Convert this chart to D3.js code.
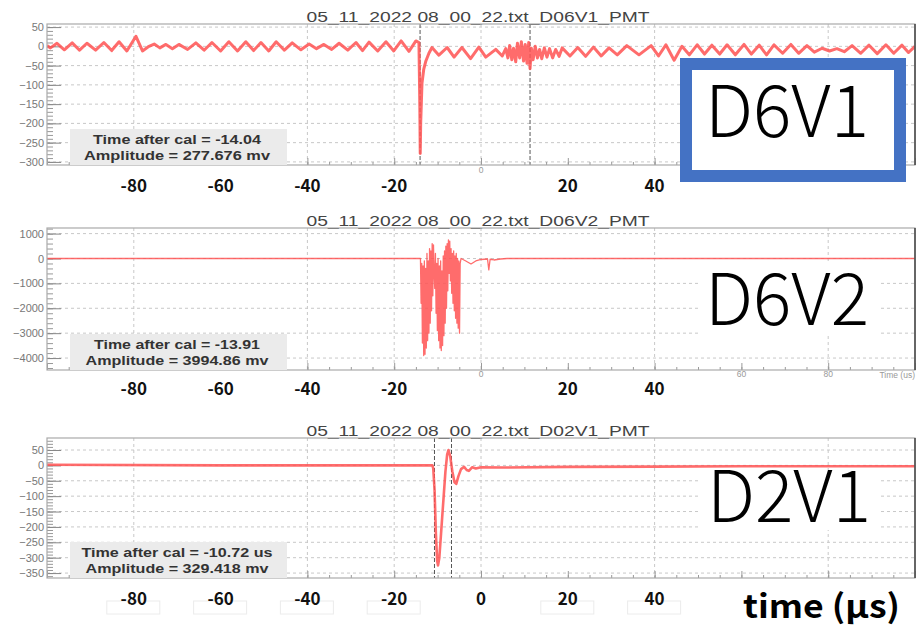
<!DOCTYPE html>
<html>
<head>
<meta charset="utf-8">
<script src="https://cdn.jsdelivr.net/npm/d3@7/dist/d3.min.js"></script>
<style>
  body { margin: 0; background: #fff; }
  svg { display: block; }
</style>
</head>
<body>
<svg id="chart" width="918" height="628"></svg>
<script>
// ---- data ----
const titles = [
  "05_11_2022 08_00_22.txt_D06V1_PMT",
  "05_11_2022 08_00_22.txt_D06V2_PMT",
  "05_11_2022 08_00_22.txt_D02V1_PMT"
];
const tags = ["D6V1", "D6V2", "D2V1"];

const d06v1Info = ["Time after cal = -14.04", "Amplitude = 277.676 mv"];
const d06v2Info = ["Time after cal = -13.91", "Amplitude = 3994.86 mv"];
const d02v1Info = ["Time after cal = -10.72 us", "Amplitude = 329.418 mv"];

const d06v1YTicks = [50, 0, -50, -100, -150, -200, -250, -300];
const d06v2YTicks = [1000, 0, -1000, -2000, -3000, -4000];
const d02v1YTicks = [50, 0, -50, -100, -150, -200, -250, -300, -350];

const boldLabelsUpper = [-80, -60, -40, -20, 20, 40];
const boldLabelsLower = [-80, -60, -40, -20, 0, 20, 40];
const gridX = [-80, -40, -20, 0, 40, 80];

const d06v1Markers = [-14.04, 11.3];
const d02v1Markers = [-10.72, -6.8];

// [time (us), mV]
const d06v1Wave = [
  [-100, 2], [-99.2, -4], [-97.7, 8], [-96, -9], [-94.2, 9], [-92.5, -10], [-90.8, 8],
  [-88.8, -10], [-86.9, 10], [-85.1, -11], [-83.4, 12], [-81.6, -12], [-79.5, 26], [-78.0, -12],
  [-76.5, 0], [-75.3, 6], [-74, -4], [-72.6, 5], [-71.1, -6], [-69.6, 5], [-67.6, -8],
  [-65.7, 9], [-63.8, -10], [-62.0, 10], [-60.0, -12], [-58.1, 12], [-56.1, -12], [-54.2, 12],
  [-52.4, -11], [-50.7, 10], [-48.9, -12], [-47.2, 12], [-45.3, -10], [-43.5, 9], [-41.5, -9],
  [-39.6, 6], [-37.9, -6], [-36.2, 5], [-34.4, -8], [-32.7, 8], [-30.7, -10], [-28.8, 10],
  [-27.3, -11], [-25.8, 11], [-23.8, -12], [-21.9, 12], [-20.1, -12], [-18.4, 14], [-16.6, -13],
  [-15.0, 14], [-14.3, 10], [-14.1, -150], [-14.0, -278], [-13.9, -200], [-13.6, -96],
  [-13.2, -60], [-12.7, -38], [-12.0, -18], [-11.3, -3], [-9.7, -23], [-7.8, -3], [-6.2, -28],
  [-4.4, -3], [-2.4, -32], [-0.5, -2], [1.1, -28], [3.4, -8], [4.9, -25], [5.7, -6], [6.2, -30],
  [6.6, 2], [7.1, -35], [7.5, -5], [8.0, -40], [8.4, 8], [8.9, -30], [9.3, 12], [9.8, -38],
  [10.2, 5], [10.6, -44], [11.0, 10], [11.3, -58], [11.6, -5], [12.0, -35], [12.5, 0],
  [13.0, -30], [13.5, -8], [14.0, -32], [14.6, -4], [15.2, -28], [15.8, -6], [16.5, -30],
  [17.2, -8], [18.0, -26], [18.7, -4], [20.5, -25], [22.3, -3], [24.1, -26], [25.9, -2],
  [27.7, -25], [29.5, -4], [31.4, -22], [33.6, 2], [36.4, -22], [39.2, 2], [40.9, -25],
  [42.6, 4], [44.5, -36], [46.3, 0], [48.0, -22], [49.8, 4], [51.5, -20], [53.2, 3], [55.0, -20],
  [56.7, 4], [58.6, -22], [60.6, 5], [62.3, -20], [64.1, 3], [65.8, -22], [67.5, 4], [69.5, -18],
  [71.4, 5], [73.2, -18], [75.1, 2], [76.8, -15], [78.6, -5], [80.3, -12], [82, -6], [83.7, -14],
  [85.5, 2], [87.5, -18], [89.4, 3], [91.3, -19], [93.3, 4], [95.1, -18], [97.0, 3], [98.5, -16],
  [100, 0]
];

const d06v2Wave = [
  [-100, 0], [-13.95, 0],
  [-13.8, -1800], [-13.65, -200], [-13.5, -3400], [-13.35, -300], [-13.2, -3900], [-13.05, -100],
  [-12.9, -3850], [-12.75, -400], [-12.6, -3600], [-12.45, 200], [-12.3, -3300], [-12.15, -100],
  [-12.0, -3000], [-11.85, 400], [-11.7, -2600], [-11.55, 300], [-11.4, -2100], [-11.25, 600],
  [-11.1, -1500], [-10.95, 550], [-10.8, -600],
  [-10.65, -1200], [-10.5, 200], [-10.35, -2200], [-10.2, -200], [-10.05, -2900], [-9.9, 0],
  [-9.75, -3300], [-9.6, -300], [-9.45, -3600], [-9.3, -100], [-9.15, -3700], [-9.0, -500],
  [-8.85, -3500], [-8.7, 100], [-8.55, -3100], [-8.4, 300], [-8.25, -2600], [-8.1, 500],
  [-7.95, -2000], [-7.8, 600], [-7.65, -1300], [-7.5, 750], [-7.35, -600], [-7.2, 700],
  [-7.05, -900], [-6.9, 400], [-6.75, -1400], [-6.6, 200], [-6.45, -1800], [-6.3, 300],
  [-6.15, -2100], [-6.0, 100], [-5.85, -2400], [-5.7, 200], [-5.55, -2600], [-5.4, 0],
  [-5.25, -2800], [-5.1, -100], [-4.95, -3000], [-4.8, -200], [-4.6, 0],
  [-3.5, -100], [-2.3, -220], [-1.2, -100], [0, -40], [1.5, -20], [1.8, -460], [2.1, -30],
  [3, -60], [4.5, -20], [6, 0], [100, 0]
];

const d02v1Wave = [
  [-100, 2], [-60, 0], [-11.2, 0], [-11.0, -10], [-10.7, -80], [-10.4, -220], [-10.1, -310],
  [-9.9, -325], [-9.6, -300], [-9.2, -220], [-8.7, -120], [-8.2, -20], [-7.8, 35], [-7.5, 50],
  [-7.1, 30], [-6.6, -20], [-6.1, -55], [-5.7, -60], [-5.2, -35], [-4.6, -12], [-3.9, -5],
  [-3.3, -15], [-2.8, -18], [-2.0, -6], [-1.2, -10], [0, -6], [5, -7], [20, -5], [40, -4],
  [60, -3], [80, -3], [100, -3]
];

// ---- layout ----
const svg = d3.select("#chart");
const left = 47, right = 915;
const red = "#ff5252";
const sans = "'Liberation Sans', Arial, sans-serif";
const jp = "'Noto Sans CJK JP', 'Noto Sans', sans-serif";

const x = d3.scaleLinear().domain([-100, 100]).range([left, right]);

const panels = [
  { top: 24, bottom: 165, yDomain: [-308, 58], yTicks: d06v1YTicks, minorStep: 10,
    wave: d06v1Wave, markers: d06v1Markers, title: titles[0], info: d06v1Info, infoLen: [168, 186],
    labels: boldLabelsUpper, labelY: 192, lineWidth: 3 },
  { top: 228, bottom: 370, yDomain: [-4480, 1225], yTicks: d06v2YTicks, minorStep: 200,
    wave: d06v2Wave, markers: [], title: titles[1], info: d06v2Info, infoLen: [166, 183],
    labels: boldLabelsUpper, labelY: 395, lineWidth: 1.3 },
  { top: 438, bottom: 578, yDomain: [-366, 89], yTicks: d02v1YTicks, minorStep: 10,
    wave: d02v1Wave, markers: d02v1Markers, title: titles[2], info: d02v1Info, infoLen: [191, 183],
    labels: boldLabelsLower, labelY: 605, lineWidth: 2.6 }
];

svg.append("rect").attr("width", 918).attr("height", 628).attr("fill", "#fff");

panels.forEach((p, idx) => {
  const g = svg.append("g");
  const y = d3.scaleLinear().domain(p.yDomain).range([p.bottom, p.top]);

  // title
  g.append("text")
    .attr("x", 478).attr("y", p.top - 2.5)
    .attr("text-anchor", "middle")
    .attr("font-family", sans).attr("font-size", 14)
    .attr("fill", "#444")
    .attr("textLength", 343).attr("lengthAdjust", "spacingAndGlyphs")
    .text(p.title);

  // grid
  g.selectAll(".hgrid").data(p.yTicks.filter(v => y(v) > p.top + 2 && y(v) < p.bottom - 2))
    .enter().append("line")
    .attr("x1", left).attr("x2", right)
    .attr("y1", d => y(d)).attr("y2", d => y(d))
    .attr("stroke", "#c8c8c8").attr("stroke-width", 1).attr("stroke-dasharray", "3,3");
  g.selectAll(".vgrid").data(gridX).enter().append("line")
    .attr("x1", d => x(d)).attr("x2", d => x(d))
    .attr("y1", p.top).attr("y2", p.bottom)
    .attr("stroke", "#c8c8c8").attr("stroke-width", 1).attr("stroke-dasharray", "3,3");

  // y axis, ROOT style ticks inside the frame
  const minor = d3.range(Math.ceil(p.yDomain[0] / p.minorStep) * p.minorStep, p.yDomain[1], p.minorStep);
  g.append("g").attr("transform", `translate(${left},0)`)
    .call(d3.axisLeft(y).tickValues(minor).tickSize(-6).tickFormat(""))
    .call(a => a.select(".domain").remove())
    .selectAll("line").attr("stroke", "#999");
  const yAxis = g.append("g").attr("transform", `translate(${left},0)`)
    .call(d3.axisLeft(y).tickValues(p.yTicks).tickSize(-14).tickPadding(3).tickFormat(d3.format("d")))
    .call(a => a.select(".domain").remove());
  yAxis.selectAll("line").attr("stroke", "#888");
  yAxis.selectAll("text")
    .attr("font-family", sans).attr("font-size", 11).attr("fill", "#777");

  // x ticks at bottom, pointing up
  g.append("g").attr("transform", `translate(0,${p.bottom})`)
    .call(d3.axisBottom(x).tickValues(d3.range(-100, 101, 5)).tickSize(-3).tickFormat(""))
    .call(a => a.select(".domain").remove())
    .selectAll("line").attr("stroke", "#999");
  g.append("g").attr("transform", `translate(0,${p.bottom})`)
    .call(d3.axisBottom(x).tickValues(d3.range(-100, 101, 20)).tickSize(-7).tickFormat(""))
    .call(a => a.select(".domain").remove())
    .selectAll("line").attr("stroke", "#999");

  // event markers
  g.selectAll(".marker").data(p.markers).enter().append("line")
    .attr("x1", d => x(d)).attr("x2", d => x(d))
    .attr("y1", p.top).attr("y2", p.bottom)
    .attr("stroke", "#555").attr("stroke-width", 1).attr("stroke-dasharray", "4,2");

  // waveform
  const clipId = `clip${idx}`;
  g.append("clipPath").attr("id", clipId).append("rect")
    .attr("x", left).attr("y", p.top).attr("width", right - left).attr("height", p.bottom - p.top);
  const line = d3.line().x(d => x(d[0])).y(d => y(d[1]));
  g.append("path").datum(p.wave)
    .attr("clip-path", `url(#${clipId})`)
    .attr("d", line)
    .attr("fill", "none")
    .attr("stroke", red).attr("stroke-opacity", 0.85)
    .attr("stroke-width", p.lineWidth)
    .attr("stroke-linejoin", "round");

  // frame
  g.append("rect")
    .attr("x", left).attr("y", p.top).attr("width", right - left).attr("height", p.bottom - p.top)
    .attr("fill", "none").attr("stroke", "#aaa").attr("stroke-width", 1.2);
  g.append("line")
    .attr("x1", right).attr("x2", right).attr("y1", p.top).attr("y2", p.bottom)
    .attr("stroke", "#444").attr("stroke-width", 1.5);

  // stats box
  g.append("rect")
    .attr("x", 70).attr("y", p.bottom - 36).attr("width", 217).attr("height", 36)
    .attr("fill", "#ebebeb");
  p.info.forEach((t, i) => {
    g.append("text")
      .attr("x", 177).attr("y", p.bottom - 21 + i * 16)
      .attr("text-anchor", "middle")
      .attr("font-family", sans).attr("font-weight", "bold").attr("font-size", 12.5)
      .attr("fill", "#333")
      .attr("textLength", p.infoLen[i]).attr("lengthAdjust", "spacingAndGlyphs")
      .text(t);
  });

  // pasted bold axis labels on white patches
  if (idx === 2) {
    g.selectAll(".patch").data(p.labels.filter(d => d !== 0)).enter().append("rect")
      .attr("x", d => x(d) - 27).attr("y", 601).attr("width", 53).attr("height", 13)
      .attr("fill", "#fff").attr("stroke", "#ececec");
  }
  g.selectAll(".blabel").data(p.labels).enter().append("text")
    .attr("x", d => x(d)).attr("y", p.labelY)
    .attr("text-anchor", "middle")
    .attr("font-family", jp).attr("font-weight", "bold").attr("font-size", 17)
    .attr("fill", "#111")
    .text(d => d);
});

// leftover ROOT tick labels
const smallLabels = [
  { v: 0, y: 173, t: "0" },
  { v: 0, y: 377, t: "0" },
  { v: 60, y: 377, t: "60" },
  { v: 80, y: 377, t: "80" }
];
svg.selectAll(".small").data(smallLabels).enter().append("text")
  .attr("x", d => x(d.v)).attr("y", d => d.y)
  .attr("text-anchor", "middle")
  .attr("font-family", sans).attr("font-size", 8.5).attr("fill", "#999")
  .text(d => d.t);
svg.append("text")
  .attr("x", 915).attr("y", 378).attr("text-anchor", "end")
  .attr("font-family", sans).attr("font-size", 8.5).attr("fill", "#999")
  .text("Time (us)");

// channel tags
svg.append("rect")
  .attr("x", 686).attr("y", 64).attr("width", 214).attr("height", 112)
  .attr("fill", "#fff").attr("stroke", "#4472C4").attr("stroke-width", 12);
svg.append("rect").attr("x", 700).attr("y", 264).attr("width", 178).attr("height", 70).attr("fill", "#fff");
svg.append("rect").attr("x", 700).attr("y", 470).attr("width", 178).attr("height", 60).attr("fill", "#fff");

const tagPos = [{ x: 787, y: 137 }, { x: 787, y: 325 }, { x: 789, y: 522 }];
tags.forEach((t, i) => {
  svg.append("text")
    .attr("x", tagPos[i].x).attr("y", tagPos[i].y)
    .attr("text-anchor", "middle")
    .attr("font-family", jp).attr("font-weight", 300).attr("font-size", 72)
    .attr("fill", "#000")
    .attr("textLength", 164).attr("lengthAdjust", "spacingAndGlyphs")
    .text(t);
});

svg.append("text")
  .attr("x", 743).attr("y", 618)
  .attr("font-family", jp).attr("font-weight", "bold").attr("font-size", 32)
  .attr("fill", "#000")
  .attr("textLength", 157).attr("lengthAdjust", "spacingAndGlyphs")
  .text("time (μs)");
</script>
</body>
</html>
